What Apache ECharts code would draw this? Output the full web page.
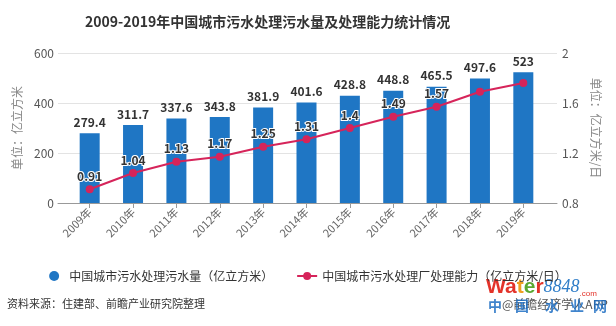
<!DOCTYPE html>
<html>
<head>
<meta charset="utf-8">
<script src="https://cdn.jsdelivr.net/npm/echarts@6/dist/echarts.min.js"></script>
<style>
  html, body { margin: 0; padding: 0; background: #fff; }
  #chart { width: 616px; height: 326px; }
</style>
</head>
<body>
<div id="chart"></div>
<script>
// Years on the category axis
const years = ['2009年', '2010年', '2011年', '2012年', '2013年', '2014年', '2015年', '2016年', '2017年', '2018年', '2019年'];
// Treated sewage volume (亿立方米)
const sewageVolume = [279.4, 311.7, 337.6, 343.8, 381.9, 401.6, 428.8, 448.8, 465.5, 497.6, 523];
// Daily treatment capacity of urban sewage plants (亿立方米/日)
const treatCapacity = [0.91, 1.04, 1.13, 1.17, 1.25, 1.31, 1.4, 1.49, 1.57, 1.69, 1.76];
// Only the first points carry a value label
const labeledPoints = 9;

const seriesNames = ['中国城市污水处理污水量（亿立方米）', '中国城市污水处理厂处理能力（亿立方米/日）'];
const FONT = '"Noto Sans CJK SC", "Noto Sans", sans-serif';
const BLUE = '#1f76c4';
const RED = '#d6245a';

const chart = echarts.init(document.getElementById('chart'), null, { renderer: 'canvas' });

const leftRange = { min: 0, max: 600, interval: 200 };
const rightRange = { min: 0.8, max: 2, interval: 0.4 };

// Blue characters of the site mark, each placed on its own
const siteChars = [
  { ch: '中', x: 488 }, { ch: '国', x: 515 }, { ch: '水', x: 545 }, { ch: '业', x: 570 }, { ch: '网', x: 593 }
];

chart.setOption({
  backgroundColor: '#fff',
  animation: false,
  textStyle: { fontFamily: FONT },
  title: {
    text: '2009-2019年中国城市污水处理污水量及处理能力统计情况',
    left: 80,
    top: 10,
    textStyle: { fontSize: 14, fontWeight: 'bold', color: '#333', fontFamily: FONT }
  },
  legend: {
    data: [{ name: seriesNames[0], icon: 'circle' }, { name: seriesNames[1] }],
    left: 'center',
    top: 265,
    itemWidth: 20,
    itemHeight: 10,
    itemGap: 23,
    textStyle: { fontSize: 12, color: '#333', fontFamily: FONT }
  },
  // grid 0 carries the value axes and split lines, grid 1 carries the marks
  grid: [
    { left: 58, right: 59, top: 53, height: 150, containLabel: false },
    { left: 68, right: 71, top: 53, height: 150, containLabel: false }
  ],
  xAxis: [
    {
      type: 'category', gridIndex: 0, data: years,
      axisLine: { show: true, lineStyle: { color: '#999' } },
      axisTick: { show: false }, axisLabel: { show: false }
    },
    {
      type: 'category', gridIndex: 1, data: years,
      axisLine: { show: false },
      axisTick: { show: true, alignWithLabel: true, length: 5, lineStyle: { color: '#999' } },
      axisLabel: { rotate: 45, fontSize: 11, color: '#666', margin: 7, fontFamily: FONT }
    }
  ],
  yAxis: [
    {
      type: 'value', gridIndex: 0, position: 'left', ...leftRange,
      name: '单位：亿立方米', nameLocation: 'middle', nameGap: 28,
      nameTextStyle: { fontSize: 12, color: '#888', fontFamily: FONT },
      axisLine: { show: false }, axisTick: { show: false },
      axisLabel: { fontSize: 12, color: '#555', margin: 4 },
      splitLine: { lineStyle: { color: '#e3e3e3' } }
    },
    {
      type: 'value', gridIndex: 0, position: 'right', ...rightRange,
      name: '单位：亿立方米/日', nameLocation: 'middle', nameGap: 30, nameRotate: -90,
      nameTextStyle: { fontSize: 12, color: '#888', fontFamily: FONT },
      axisLine: { show: false }, axisTick: { show: false },
      axisLabel: { fontSize: 12, color: '#555', margin: 5 },
      splitLine: { show: false }
    },
    { type: 'value', gridIndex: 1, position: 'left', ...leftRange, show: false },
    { type: 'value', gridIndex: 1, position: 'right', ...rightRange, show: false }
  ],
  series: [
    {
      name: seriesNames[0],
      type: 'bar',
      xAxisIndex: 1, yAxisIndex: 2,
      barWidth: 20,
      itemStyle: { color: BLUE },
      label: {
        show: true, position: 'top', distance: 5,
        fontSize: 12, fontWeight: 'bold', color: '#333', fontFamily: FONT
      },
      data: sewageVolume
    },
    {
      name: seriesNames[1],
      type: 'line',
      xAxisIndex: 1, yAxisIndex: 3,
      symbol: 'circle', symbolSize: 8,
      lineStyle: { color: RED, width: 2 },
      itemStyle: { color: RED },
      label: {
        position: 'top', distance: 3,
        fontSize: 12, fontWeight: 'bold', color: '#333',
        textBorderColor: '#fff', textBorderWidth: 2, fontFamily: FONT
      },
      data: treatCapacity.map((v, i) => ({ value: v, label: { show: i < labeledPoints } }))
    }
  ],
  graphic: [
    {
      type: 'text', left: 7, top: 298,
      style: { text: '资料来源：住建部、前瞻产业研究院整理', fontSize: 11, fill: '#333', fontFamily: FONT }
    },
    {
      type: 'text', left: 486, top: 277,
      style: {
        text: '{r|Wa}{o|t}{g|e}{r|r}{b|8848}{c|.com}',
        rich: {
          r: { fontSize: 21, fontWeight: 'bold', fill: '#e3332a', fontFamily: 'Liberation Sans' },
          o: { fontSize: 21, fontWeight: 'bold', fill: '#f0a020', fontFamily: 'Liberation Sans' },
          g: { fontSize: 21, fontWeight: 'bold', fill: '#5aa832', fontFamily: 'Liberation Sans' },
          b: { fontSize: 18, fontStyle: 'italic', fill: '#2f7dc8', fontFamily: 'Liberation Serif' },
          c: { fontSize: 8, fill: '#e3332a', fontFamily: 'Liberation Sans', verticalAlign: 'bottom' }
        }
      }
    },
    {
      type: 'text', left: 502, top: 298,
      style: { text: '@前瞻经济学人APP', fontSize: 12, fill: '#555', fontFamily: FONT }
    },
    ...siteChars.map(c => ({
      type: 'text', left: c.x, top: 299,
      style: { text: c.ch, fontSize: 14, fontWeight: 'bold', fill: '#1f6fc3', opacity: 0.85, fontFamily: FONT }
    }))
  ]
});
</script>
</body>
</html>
